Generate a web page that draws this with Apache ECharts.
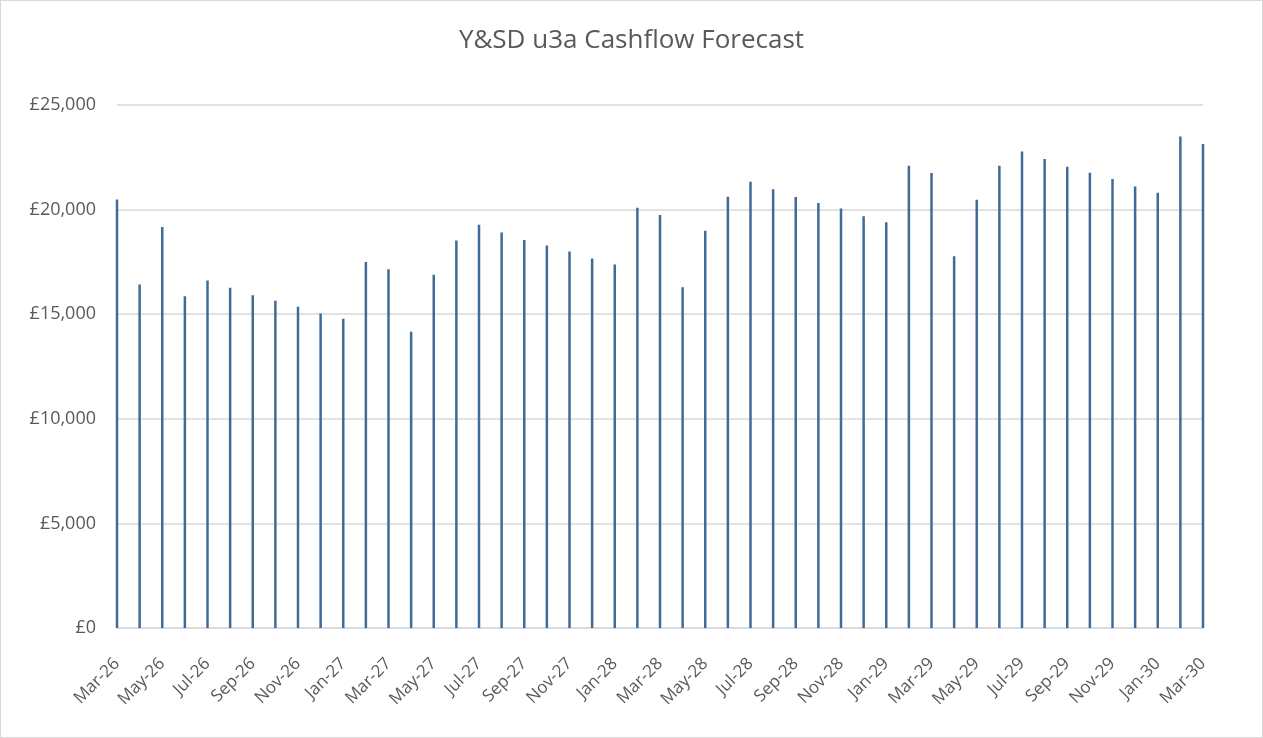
<!DOCTYPE html>
<html>
<head>
<meta charset="utf-8">
<title>Y&amp;SD u3a Cashflow Forecast</title>
<script src="https://cdn.jsdelivr.net/npm/echarts@6/dist/echarts.min.js"></script>
<style>
  html, body { margin: 0; padding: 0; background: #fff; }
  #chart {
    width: 1261px;
    height: 736px;
    border: 1px solid #d9d9d9;
  }
</style>
</head>
<body>
<div id="chart"></div>
<script>
// 月份
const months = [
  'Mar-26', 'Apr-26', 'May-26', 'Jun-26', 'Jul-26', 'Aug-26', 'Sep-26', 'Oct-26', 'Nov-26', 'Dec-26',
  'Jan-27', 'Feb-27', 'Mar-27', 'Apr-27', 'May-27', 'Jun-27', 'Jul-27', 'Aug-27', 'Sep-27', 'Oct-27',
  'Nov-27', 'Dec-27', 'Jan-28', 'Feb-28', 'Mar-28', 'Apr-28', 'May-28', 'Jun-28', 'Jul-28', 'Aug-28',
  'Sep-28', 'Oct-28', 'Nov-28', 'Dec-28', 'Jan-29', 'Feb-29', 'Mar-29', 'Apr-29', 'May-29', 'Jun-29',
  'Jul-29', 'Aug-29', 'Sep-29', 'Oct-29', 'Nov-29', 'Dec-29', 'Jan-30', 'Feb-30', 'Mar-30'
]

// 月末余额 (£)
const balance = [
  20480, 16420, 19170, 15860, 16610, 16260, 15900, 15640, 15360, 15030,
  14780, 17500, 17150, 14160, 16880, 18520, 19280, 18900, 18550, 18280,
  18000, 17660, 17370, 20090, 19740, 16290, 18990, 20620, 21330, 20970,
  20600, 20320, 20050, 19680, 19390, 22100, 21750, 17770, 20470, 22100,
  22780, 22420, 22050, 21760, 21460, 21100, 20800, 23500, 23140
]

// 纵轴刻度
const yTicks = { min: 0, max: 25000, interval: 5000 }

const chart = echarts.init(document.getElementById('chart'))

const formatPounds = (v) => '£' + String(v).replace(/\B(?=(\d{3})+(?!\d))/g, ',')

chart.setOption({
  animation: false,
  title: {
    text: 'Y&SD u3a Cashflow Forecast',
    left: 'center',
    top: 22,
    textStyle: {
      fontFamily: 'Open Sans',
      fontSize: 26,
      fontWeight: 'normal',
      color: '#595959'
    }
  },
  grid: {
    left: 116,
    right: 59,
    top: 104,
    bottom: 109
  },
  xAxis: {
    type: 'category',
    data: months,
    boundaryGap: false,
    axisLine: { lineStyle: { color: '#d9d9d9', width: 1.5 } },
    axisTick: { show: false },
    axisLabel: {
      interval: 1,
      rotate: 45,
      margin: 33,
      fontFamily: 'Open Sans',
      fontSize: 17,
      color: '#595959'
    }
  },
  yAxis: {
    type: 'value',
    min: yTicks.min,
    max: yTicks.max,
    interval: yTicks.interval,
    axisLine: { show: false },
    axisTick: { show: false },
    splitLine: { lineStyle: { color: '#d9d9d9', width: 1.5 } },
    axisLabel: {
      formatter: formatPounds,
      margin: 21,
      padding: [6, 0, 0, 0],
      fontFamily: 'Open Sans',
      fontSize: 18,
      color: '#595959'
    }
  },
  series: [{
    type: 'bar',
    data: balance,
    barWidth: 2.5,
    itemStyle: { color: '#3f6b96' }
  }]
})
</script>
</body>
</html>
